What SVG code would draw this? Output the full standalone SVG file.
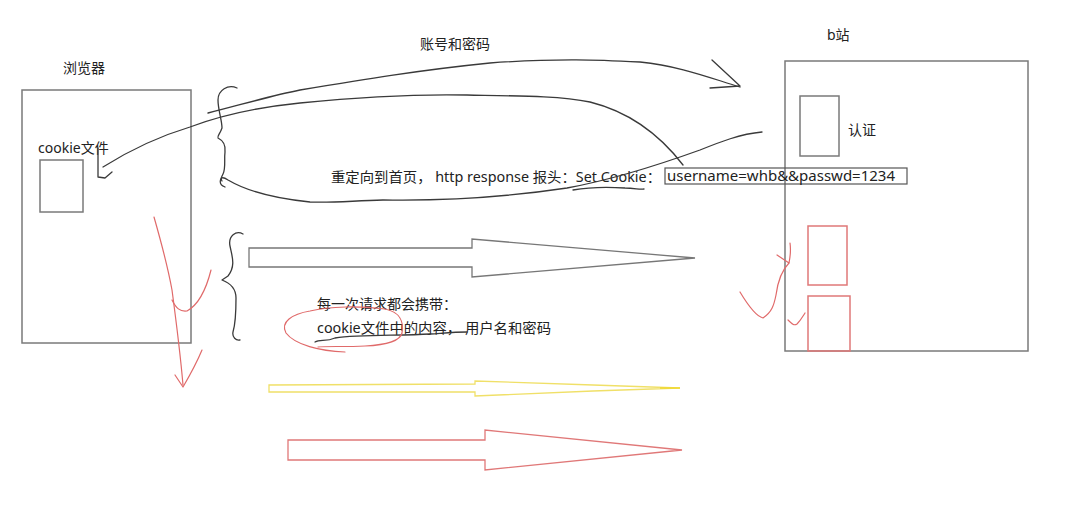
<svg xmlns="http://www.w3.org/2000/svg" width="1074" height="526" viewBox="0 0 1074 526">
<style>
text{font-family:"Noto Sans","Noto Sans CJK SC",sans-serif;font-size:14px;fill:#222}
.box{fill:none;stroke:#7a7a7a;stroke-width:1.5}
.rbox{fill:none;stroke:#e07878;stroke-width:1.5}
.ink{fill:none;stroke:#3a3a3a;stroke-width:1.3;stroke-linecap:round;stroke-linejoin:round}
.red{fill:none;stroke:#e06a6a;stroke-width:1.2;stroke-linecap:round;stroke-linejoin:round}
</style>
<rect width="1074" height="526" fill="#fff"/>
<g id="browser">
<text x="63" y="73">浏览器</text>
<rect class="box" x="22" y="90" width="169" height="253"/>
<text x="38" y="153">cookie文件</text>
<rect class="box" x="40" y="160" width="43" height="52"/>
</g>
<g id="bsite">
<text x="827" y="40">b站</text>
<rect class="box" x="785" y="61" width="243" height="290"/>
<rect class="box" x="800" y="96" width="39" height="60"/>
<text x="848" y="135">认证</text>
<rect class="rbox" x="808" y="226" width="39" height="59"/>
<rect class="rbox" x="808" y="296" width="42" height="55"/>
</g>
<g id="labels">
<text x="420" y="49">账号和密码</text>
<text x="331" y="182" textLength="330" lengthAdjust="spacingAndGlyphs">重定向到首页， http response 报头：Set Cookie：</text>
<rect fill="none" stroke="#555" stroke-width="1.2" x="665" y="168" width="242" height="16"/>
<text x="667" y="181" textLength="228" lengthAdjust="spacingAndGlyphs">username=whb&amp;&amp;passwd=1234</text>
<text x="317" y="309">每一次请求都会携带：</text>
<text x="317" y="333" textLength="234" lengthAdjust="spacingAndGlyphs">cookie文件中的内容， 用户名和密码</text>
</g>
<g id="connectors">
<path class="ink" d="M208,113 C240,105 270,96 300,90 C360,80 420,70 490,63 C560,58 600,60 640,62 C680,66 710,78 740,87"/>
<path class="ink" d="M712,60 L740,86 L710,88"/>
<path class="ink" d="M103,167 C130,150 160,136 190,127 C230,112 270,106 300,103 C360,97 420,94 467,95 C520,96 560,96 590,102 C630,112 660,135 683,165"/>
<path class="ink" d="M98,148 L98,177 L105,178 L112,172"/>
<path class="ink" d="M762,132 C740,134 720,142 700,150 C650,168 600,182 567,188 C500,198 440,201 383,200 C350,201 330,203 310,202 C270,198 245,190 228,180 C222,176 220,178 222,181"/>
<path class="ink" d="M237,88 C228,84 218,90 218,100 C218,110 222,120 222,128 C220,134 217,136 218,138 C222,140 226,144 225,152 C224,160 226,168 223,174 C220,180 218,184 225,187"/>
<path class="ink" d="M573,190 C590,187 610,187 625,188 C635,188 640,190 644,189"/>
<path class="ink" d="M243,234 C236,230 228,236 230,246 C232,256 236,266 228,276 L222,280 C230,283 236,288 236,298 C236,310 236,322 233,332 C232,337 236,341 240,340"/>
<path d="M249,248 L472,248 L472,239 L695,258 L472,277 L472,267 L249,267 Z" style="fill:#fff;stroke:#777;stroke-width:1.3"/>
<path d="M269,385 L475,384 L475,381 L593,385 L680,388 L593,391 L475,396 L475,392 L269,392 Z" style="fill:#fff;stroke:#f0e068;stroke-width:1.3"/>
<path d="M680,388 L660,388" style="stroke:#f0d830;stroke-width:1.5"/>
<path d="M288,440 L485,440 L485,430 L682,450 L485,470 L485,460 L288,460 Z" style="fill:#fff;stroke:#e07878;stroke-width:1.3"/>
<path class="ink" d="M315,342 C320,339 326,342 335,338 C360,334 400,336 430,334 C445,333 455,332 467,332"/>
<path class="red" d="M345,352 C320,351 295,345 286,333 C280,322 292,314 310,311 C330,306 360,306 385,309 C400,312 404,322 402,333 C400,342 385,345 365,346 C345,347 325,346 318,347"/>
<path class="red" d="M154,217 C162,245 168,268 172,290 C176,320 180,350 183,385"/>
<path class="red" d="M175,375 L183,387 C190,375 197,362 202,350"/>
<path class="red" d="M172,300 C176,308 180,312 187,311 C198,305 206,290 211,270"/>
<path class="red" d="M790,243 C791,250 790,258 789,263 L777,255"/>
<path class="red" d="M789,263 C782,270 778,280 776,295 C774,305 772,312 763,318 C755,316 746,302 740,292"/>
<path class="red" d="M788,320 C792,324 794,326 797,324 C801,320 803,316 805,313"/>
</g>
</svg>
